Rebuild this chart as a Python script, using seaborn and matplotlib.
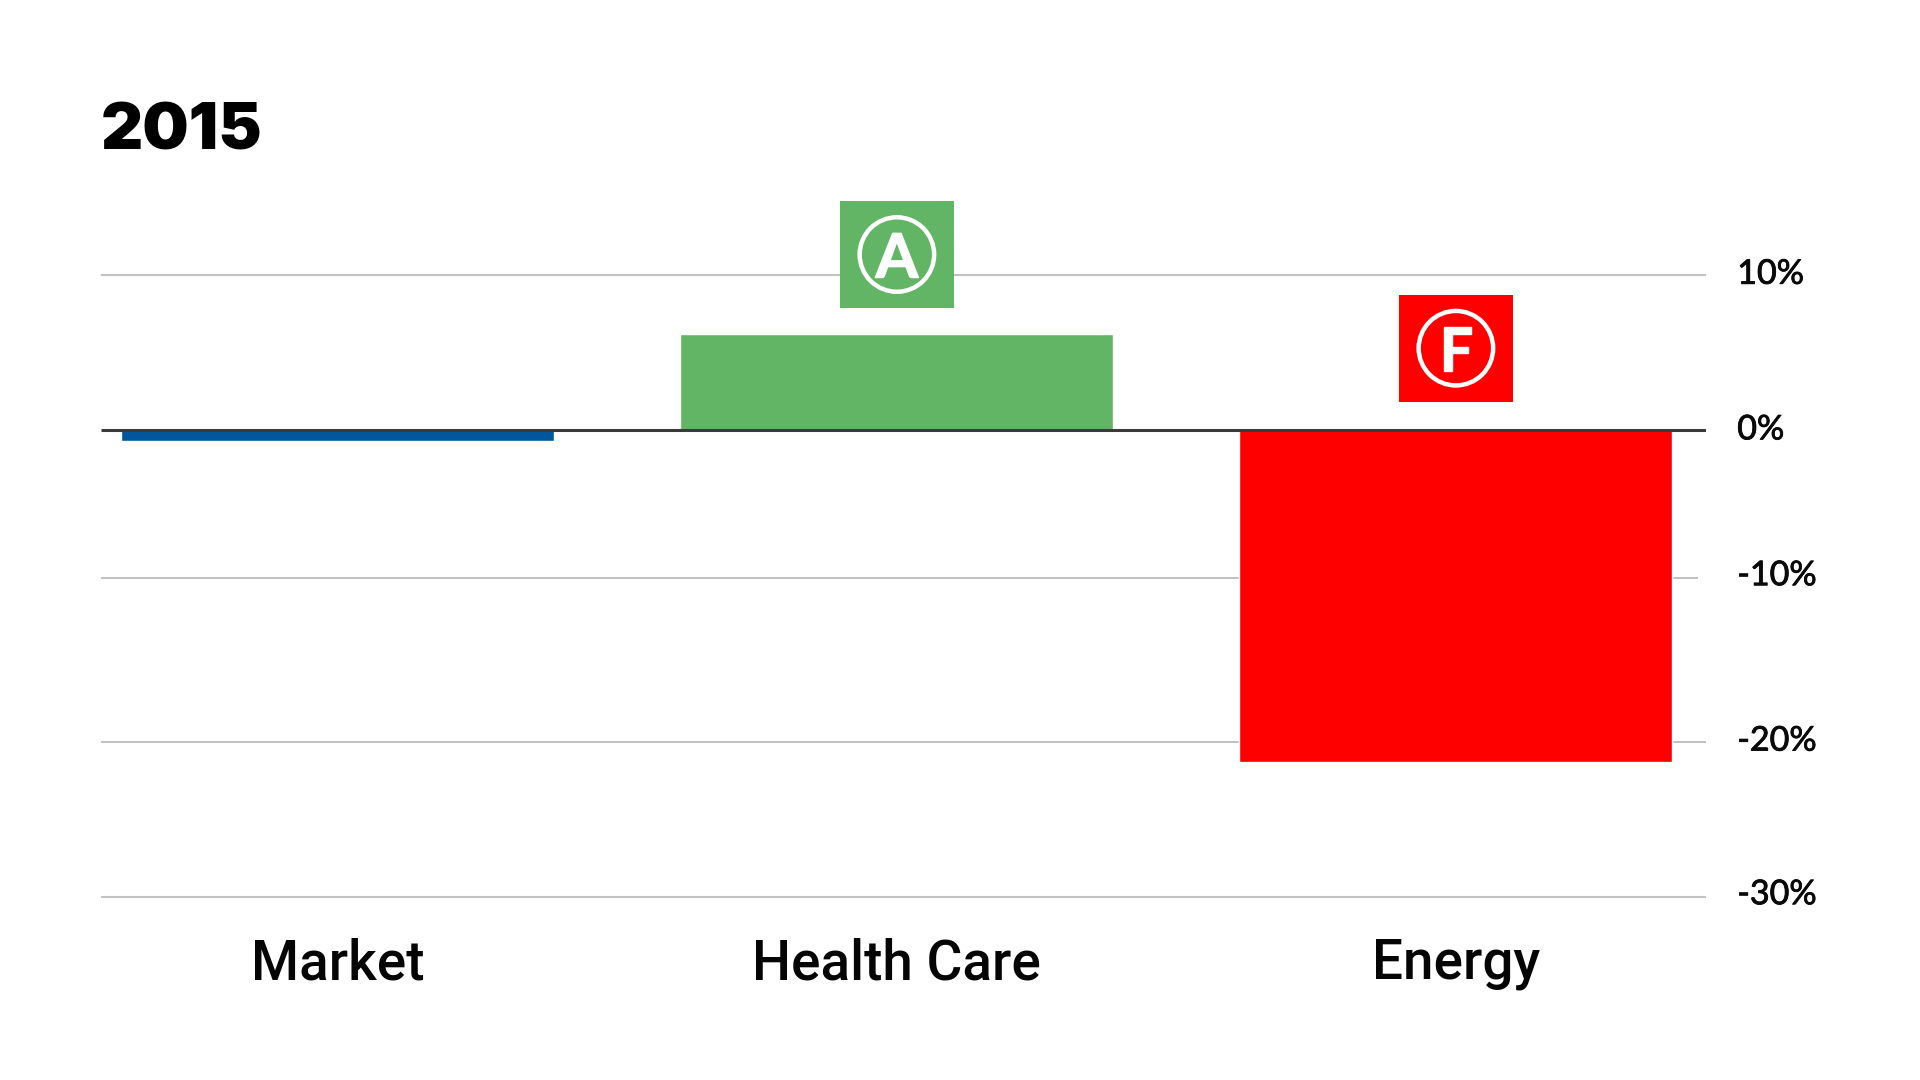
import matplotlib
matplotlib.use("Agg")
import matplotlib.pyplot as plt
import matplotlib.patheffects as pe
from matplotlib.patches import Rectangle, Ellipse
from matplotlib.transforms import ScaledTranslation
import pandas as pd
import seaborn as sns

# ---- data ----
categories = ["Market", "Health Care", "Energy"]
values = [-0.65, 6.2, -21.3]
bar_colors = ["#00589C", "#62B565", "#FF0000"]
grades = ["", "A", "F"]
title = "2015"
tick_labels = ["10%", "0%", "-10%", "-20%", "-30%"]
# the source's rules are not evenly spaced: the -10% rule sits a little high
tick_positions = [10, 0, -9.5, -20, -30]

# ---- layout (pixels) ----
W, H = 1920, 1080
L, R, T, B = 101.0, 1706.0, 150.0, 900.0
ZERO_PX, PX_PER_PCT = 430.4, 15.56
X0_PX, PX_PER_CAT = 337.9, 559.0
rule_ends_px = [R, R, 1697.7, R, R]
badge_gaps_px = [0, 25.9, 28.7]
label_lifts_px = [4, 4, 6, 4, 6]

sns.set_theme(style="white")
plt.rcParams["font.family"] = ["Lato", "DejaVu Sans"]

fig = plt.figure(figsize=(W / 100, H / 100), dpi=100, facecolor="white")
ax = fig.add_axes([L / W, 1 - B / H, (R - L) / W, (B - T) / H])
ax.set_facecolor("none")

df = pd.DataFrame({"category": categories, "value": values})
sns.barplot(data=df, x="category", y="value", hue="category", palette=bar_colors,
            hue_order=categories, order=categories, width=433 / PX_PER_CAT,
            dodge=False, saturation=1, legend=False, ax=ax, zorder=3)

ax.set_xlim((L - X0_PX) / PX_PER_CAT, (R - X0_PX) / PX_PER_CAT)
ax.set_ylim((ZERO_PX - B) / PX_PER_PCT, (ZERO_PX - T) / PX_PER_PCT)
x_min, x_max = ax.get_xlim()

for y, end_px in zip(tick_positions, rule_ends_px):
    x_end = (end_px - X0_PX) / PX_PER_CAT
    if y == 0:
        ax.hlines(y, x_min, x_end, color="#3A3A3A", lw=2.2, zorder=4)
    else:
        ax.hlines(y, x_min, x_end, color="#C2C2C2", lw=1.5, zorder=1)
ax.set_xlim(x_min, x_max)

for s in ax.spines.values():
    s.set_visible(False)

ax.set_xlabel("")
ax.set_ylabel("")
ax.yaxis.tick_right()
ax.set_yticks(tick_positions)
ax.set_yticklabels(tick_labels)
ax.tick_params(axis="y", length=0, pad=22.5, labelsize=24.5, labelcolor="#0A0A0A")
ax.set_xticks(range(len(categories)))
ax.set_xticklabels(categories)
ax.tick_params(axis="x", length=0, pad=27, labelsize=39.5, labelcolor="#050505")
for lab in ax.get_xticklabels():
    lab.set_fontfamily(["Roboto", "DejaVu Sans"])
    lab.set_fontweight("medium")
for lab, lift_px in zip(ax.get_yticklabels(), label_lifts_px):
    lift = ScaledTranslation(0, lift_px / 100, fig.dpi_scale_trans)
    lab.set_transform(lab.get_transform() + lift)
    lab.set_path_effects([pe.withStroke(linewidth=0.6, foreground="#0A0A0A")])

# grade badges sit a small gap above the taller of bar top / zero line
box_w, box_h = 114.8 / PX_PER_CAT, 107 / PX_PER_PCT
ring_w, ring_h = 74.5 / PX_PER_CAT, 74.5 / PX_PER_PCT
for i, (grade, v, c, g) in enumerate(zip(grades, values, bar_colors, badge_gaps_px)):
    if not grade:
        continue
    base = max(v, 0) + g / PX_PER_PCT
    cy = base + box_h / 2
    ax.add_patch(Rectangle((i - box_w / 2, base), box_w, box_h, fc=c, ec="none",
                           zorder=5, clip_on=False))
    ax.add_patch(Ellipse((i, cy), ring_w, ring_h, fc="none", ec="white", lw=3.2,
                         zorder=6, clip_on=False))
    ax.text(i, cy, grade, color="white", fontsize=44, fontweight="bold",
            ha="center", va="center_baseline", zorder=7,
            path_effects=[pe.withStroke(linewidth=1.0, foreground="white")])

fig.text(101 / W, 1 - 149 / H, title, fontsize=47, fontweight="black",
         color="black", ha="left", va="baseline", family=["Inter", "Lato"])

fig.savefig("out.png", dpi=100, facecolor="white")
